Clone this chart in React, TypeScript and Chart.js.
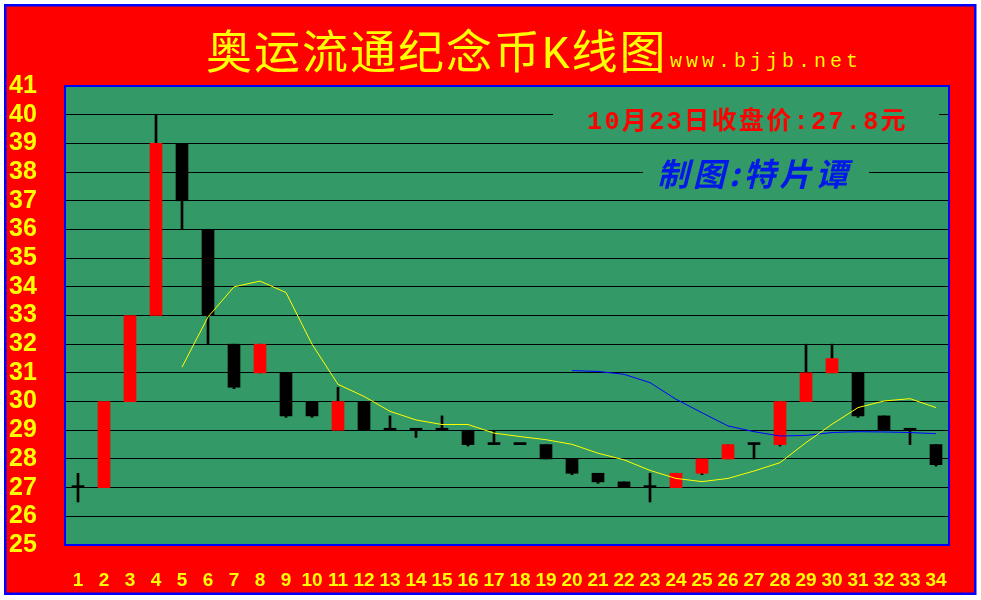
import React, { useEffect, useRef } from "react";
import { Chart, registerables } from "chart.js";

Chart.register(...registerables);

const categories = ["1","2","3","4","5","6","7","8","9","10","11","12","13","14","15","16","17","18","19","20","21","22","23","24","25","26","27","28","29","30","31","32","33","34"];

const opens = [27, 27, 30, 33, 39, 36, 32, 31, 31, 30, 29, 30, 29, 29, 29, 29, 28.5, 28.5, 28.5, 28, 27.5, 27.2, 27, 27, 27.5, 28, 28.5, 28.5, 30, 31, 31, 29.5, 29, 28.5];
const closes = [27, 30, 33, 39, 37, 33, 30.5, 32, 29.5, 29.5, 30, 29, 29, 29, 29, 28.5, 28.5, 28.5, 28, 27.5, 27.2, 27, 27, 27.5, 28, 28.5, 28.5, 30, 31, 31.5, 29.5, 29, 29, 27.8];
const highs = [27.5, 30, 33, 40, 39, 36, 32, 32, 31, 30, 30.5, 30, 29.5, 29, 29.5, 29, 29, 28.5, 28.5, 28, 27.5, 27.2, 27.5, 27.5, 28, 28.5, 28.5, 30, 32, 32, 31, 29.5, 29, 28.5];
const lows = [26.5, 27, 30, 33, 36, 32, 30.45, 31, 29.45, 29.45, 29, 29, 29, 28.75, 29, 28.45, 28.5, 28.5, 28, 27.45, 27.15, 27, 26.5, 27, 27.45, 28, 28, 28.45, 30, 31, 29.45, 29, 28.5, 27.75];

const maYellow = [null, null, null, null, 31.2, 32.95, 34.0, 34.2, 33.8, 32.0, 30.6, 30.18, 29.66, 29.36, 29.2, 29.2, 28.9, 28.78, 28.67, 28.51, 28.2, 27.97, 27.6, 27.32, 27.21, 27.32, 27.58, 27.87, 28.57, 29.21, 29.79, 30.02, 30.1, 29.79];
const maBlue = [null, null, null, null, null, null, null, null, null, null, null, null, null, null, null, null, null, null, null, 31.08, 31.05, 30.95, 30.66, 30.08, 29.61, 29.15, 28.95, 28.8, 28.82, 28.92, 28.95, 28.94, 28.92, 28.88];

const yMin = 25;
const yMax = 41;
const yStep = 1;

const titleText = "奥运流通纪念币K线图";
const siteText = "www.bjjb.net";
const closeText = "10月23日收盘价:27.8元";
const authorText = "制图:特片谭";

const GREEN = "#339966";
const RED = "#ff0000";
const YELLOW = "#ffff00";
const BLUE = "#0000ff";

const framePlugin = {
  id: "frame",
  beforeDraw(chart: any) {
    const ctx = chart.ctx;
    const { left, top, right, bottom } = chart.chartArea;
    ctx.save();
    ctx.fillStyle = "#ffffff";
    ctx.fillRect(0, 0, chart.width, chart.height);
    ctx.fillStyle = RED;
    ctx.fillRect(4, 4, 972, 591);
    ctx.strokeStyle = BLUE;
    ctx.lineWidth = 2.5;
    ctx.strokeRect(5.25, 5.25, 970, 588.5);
    ctx.fillStyle = GREEN;
    ctx.fillRect(left, top, right - left, bottom - top);

    // title
    ctx.fillStyle = YELLOW;
    ctx.textBaseline = "alphabetic";
    ctx.textAlign = "left";
    ctx.font = '46px "Liberation Mono", "Noto Sans CJK SC"';
    (ctx as any).letterSpacing = "2px";
    ctx.fillText(titleText, 206, 68);
    ctx.font = '20px "Liberation Mono"';
    (ctx as any).letterSpacing = "4px";
    ctx.fillText(siteText, 670, 67);
    (ctx as any).letterSpacing = "0px";
    ctx.restore();
  },
  beforeDatasetsDraw(chart: any) {
    const ctx = chart.ctx;
    ctx.save();
    ctx.fillStyle = GREEN;
    ctx.fillRect(553, 101, 386, 36);
    ctx.fillRect(643, 150, 226, 46);
    ctx.textBaseline = "alphabetic";
    ctx.textAlign = "left";
    ctx.fillStyle = RED;
    ctx.font = 'bold 25px "Liberation Mono", "Noto Sans CJK SC"';
    (ctx as any).letterSpacing = "2.4px";
    ctx.fillText(closeText, 587, 129);
    ctx.fillStyle = "#0018e8";
    ctx.font = 'italic bold 32px "Noto Sans CJK SC"';
    (ctx as any).letterSpacing = "4px";
    ctx.fillText(authorText, 657, 186);
    (ctx as any).letterSpacing = "0px";
    ctx.restore();
  },
  afterDraw(chart: any) {
    const ctx = chart.ctx;
    const { left, top, right, bottom } = chart.chartArea;
    ctx.save();
    ctx.strokeStyle = BLUE;
    ctx.lineWidth = 2;
    ctx.strokeRect(left, top, right - left, bottom - top);
    ctx.restore();
  },
};

export default function App() {
  const ref = useRef<HTMLCanvasElement | null>(null);
  useEffect(() => {
    if (!ref.current) return;
    const bodies = opens.map((o, i) => [o, closes[i]]);
    const wicks = lows.map((l, i) => [l, highs[i]]);
    const bodyColors = opens.map((o, i) => (closes[i] > o ? RED : "#000000"));
    const chart = new Chart(ref.current, {
      type: "bar",
      data: {
        labels: categories,
        datasets: [
          {
            type: "line",
            data: maYellow,
            borderColor: YELLOW,
            borderWidth: 1,
            pointRadius: 0,
            tension: 0,
            order: 0,
          } as any,
          {
            type: "line",
            data: maBlue,
            borderColor: BLUE,
            borderWidth: 1,
            pointRadius: 0,
            tension: 0,
            order: 0,
          } as any,
          {
            type: "bar",
            data: bodies,
            backgroundColor: bodyColors,
            barThickness: 12,
            minBarLength: 2,
            grouped: false,
            borderWidth: 0,
            order: 1,
          } as any,
          {
            type: "bar",
            data: wicks,
            backgroundColor: "#000000",
            barThickness: 2,
            grouped: false,
            borderWidth: 0,
            order: 2,
          } as any,
        ],
      },
      options: {
        responsive: false,
        animation: false,
        devicePixelRatio: 1,
        layout: { padding: { left: 9, right: 32, top: 86, bottom: 0 } },
        plugins: { legend: { display: false }, tooltip: { enabled: false } },
        scales: {
          x: {
            grid: { display: false, drawTicks: false },
            border: { display: false },
            ticks: {
              color: YELLOW,
              autoSkip: false,
              maxRotation: 0,
              minRotation: 0,
              padding: 24,
              font: { family: "Liberation Sans", weight: "bold", size: 19 },
            },
            afterFit: (s: any) => {
              s.height = 55;
            },
          },
          y: {
            min: yMin,
            max: yMax,
            grid: { color: "#000000", lineWidth: 1, drawTicks: false },
            border: { display: false },
            ticks: {
              color: YELLOW,
              stepSize: yStep,
              autoSkip: false,
              crossAlign: "far",
              padding: 0,
              font: { family: "Liberation Sans", weight: "bold", size: 25 },
            },
            afterFit: (s: any) => {
              s.width = 56;
            },
          },
        },
      },
      plugins: [framePlugin],
    } as any);
    return () => chart.destroy();
  }, []);
  return (
    <div style={{ position: "absolute", left: 0, top: 0, width: 981, height: 600 }}>
      <canvas ref={ref} width={981} height={600} style={{ display: "block" }} />
    </div>
  );
}
